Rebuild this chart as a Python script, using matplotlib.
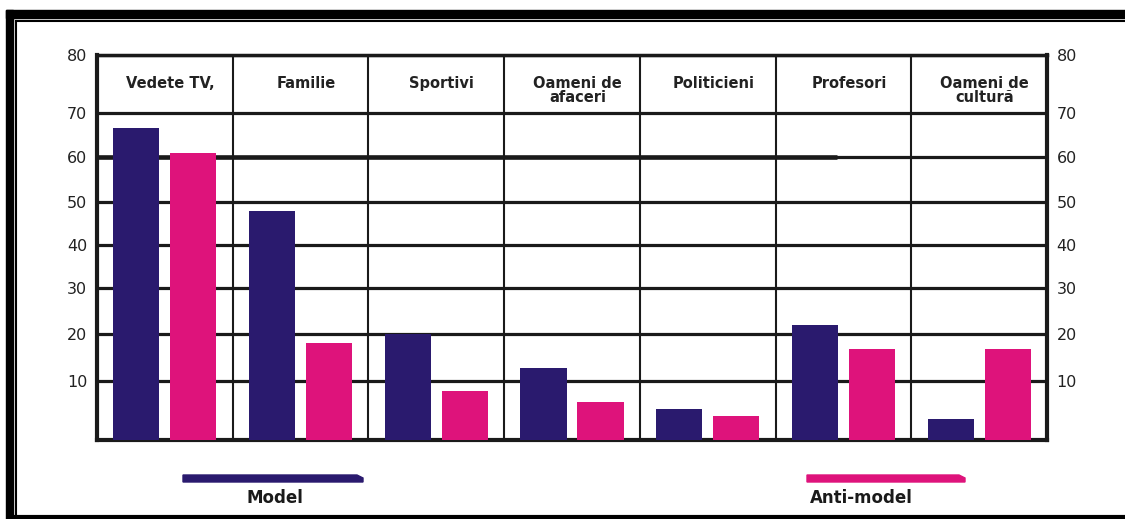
import matplotlib.pyplot as plt
import numpy as np
from matplotlib.patches import Polygon, Rectangle

# data
categories = ["Vedete TV,", "Familie", "Sportivi", "Oameni de\nafaceri",
              "Politicieni", "Profesori", "Oameni de\ncultură"]
model = [66.5, 48, 20, 12.8, 5.3, 22, 3.5]
anti_model = [61, 18, 8.3, 6.5, 4, 16.8, 16.8]
series_names = ["Model", "Anti-model"]
y_ticks = [10, 20, 30, 40, 50, 60, 70, 80]

# the printed value axis is not evenly spaced (bottom and top rows are taller)
scale_vals = [0, 10, 20, 30, 40, 50, 60, 70, 80]
scale_pos = [0, 59, 106, 152, 195, 238, 283, 327, 385]

navy = "#2a1a6e"
pink = "#de137b"
ink = "#1a1a1a"

W, H = 1125, 519
fig = plt.figure(figsize=(W / 100, H / 100), dpi=100)
plt.rcParams['font.family'] = ['DejaVu Sans']

ax = fig.add_axes([97 / W, 1 - 440 / H, 950 / W, 385 / H])


def fwd(v):
    return np.interp(v, scale_vals, scale_pos)


def inv(p):
    return np.interp(p, scale_pos, scale_vals)


ax.set_yscale('function', functions=(fwd, inv))
ax.set_ylim(0, 80)

x = np.arange(len(categories))
ax.set_xlim(-0.5, len(categories) - 0.5)

ax.bar(x - 0.21, model, 0.34, color=navy, zorder=3)
ax.bar(x + 0.21, anti_model, 0.34, color=pink, zorder=3)

# grid: horizontal value lines, vertical separators between groups
ax.set_yticks(y_ticks)
ax.set_yticks([], minor=True)
ax.yaxis.grid(True, color=ink, lw=2.3, zorder=1)
ax.vlines(x[:-1] + 0.5, 0, 80, color=ink, lw=1.5, zorder=1)
ax.hlines(60, -0.5, 4.95, color=ink, lw=3.3, zorder=2)
ax.set_xticks([])

for s in ax.spines.values():
    s.set_color(ink)
    s.set_linewidth(3)
ax.spines['top'].set_linewidth(2.5)

ax.tick_params(axis='y', length=0, labelsize=11.5, labelcolor="#222222",
               pad=7, labelright=True)

for i, c in enumerate(categories):
    ax.text(i + 0.04, 76.4, c, ha='center', va='top', fontsize=10.5,
            fontweight='bold', color="#222222", linespacing=0.95)

# legend: long bars with the series name underneath
legend_spans = [(183, 363), (807, 965)]
legend_text_x = [275, 861]
for (x0, x1), tx, col, name in zip(legend_spans, legend_text_x, [navy, pink], series_names):
    pts = [(x0, 475), (x1 - 6, 475), (x1, 478), (x1, 482), (x0, 482)]
    pts = [(px / W, 1 - py / H) for px, py in pts]
    fig.add_artist(Polygon(pts, closed=True, color=col, transform=fig.transFigure))
    fig.text(tx / W, 1 - 498 / H, name, ha='center', va='center',
             fontsize=12, fontweight='bold', color="#1a1a1a")

# outer frame
fig.add_artist(Rectangle((6 / W, 1 - 18 / H), 1, 8 / H, color='black',
                         transform=fig.transFigure))
fig.add_artist(Rectangle((6 / W, 0), 7 / W, 1 - 10 / H, color='black',
                         transform=fig.transFigure))
fig.add_artist(plt.Line2D([15.5 / W, 1], [1 - 20.5 / H] * 2, color='black', lw=1.5,
                          transform=fig.transFigure))
fig.add_artist(plt.Line2D([15.5 / W] * 2, [2 / H, 1 - 20.5 / H], color='black', lw=1.5,
                          transform=fig.transFigure))
fig.add_artist(plt.Line2D([15.5 / W, 1], [2 / H] * 2, color='black', lw=3,
                          transform=fig.transFigure))

fig.savefig("out.png", dpi=100)
